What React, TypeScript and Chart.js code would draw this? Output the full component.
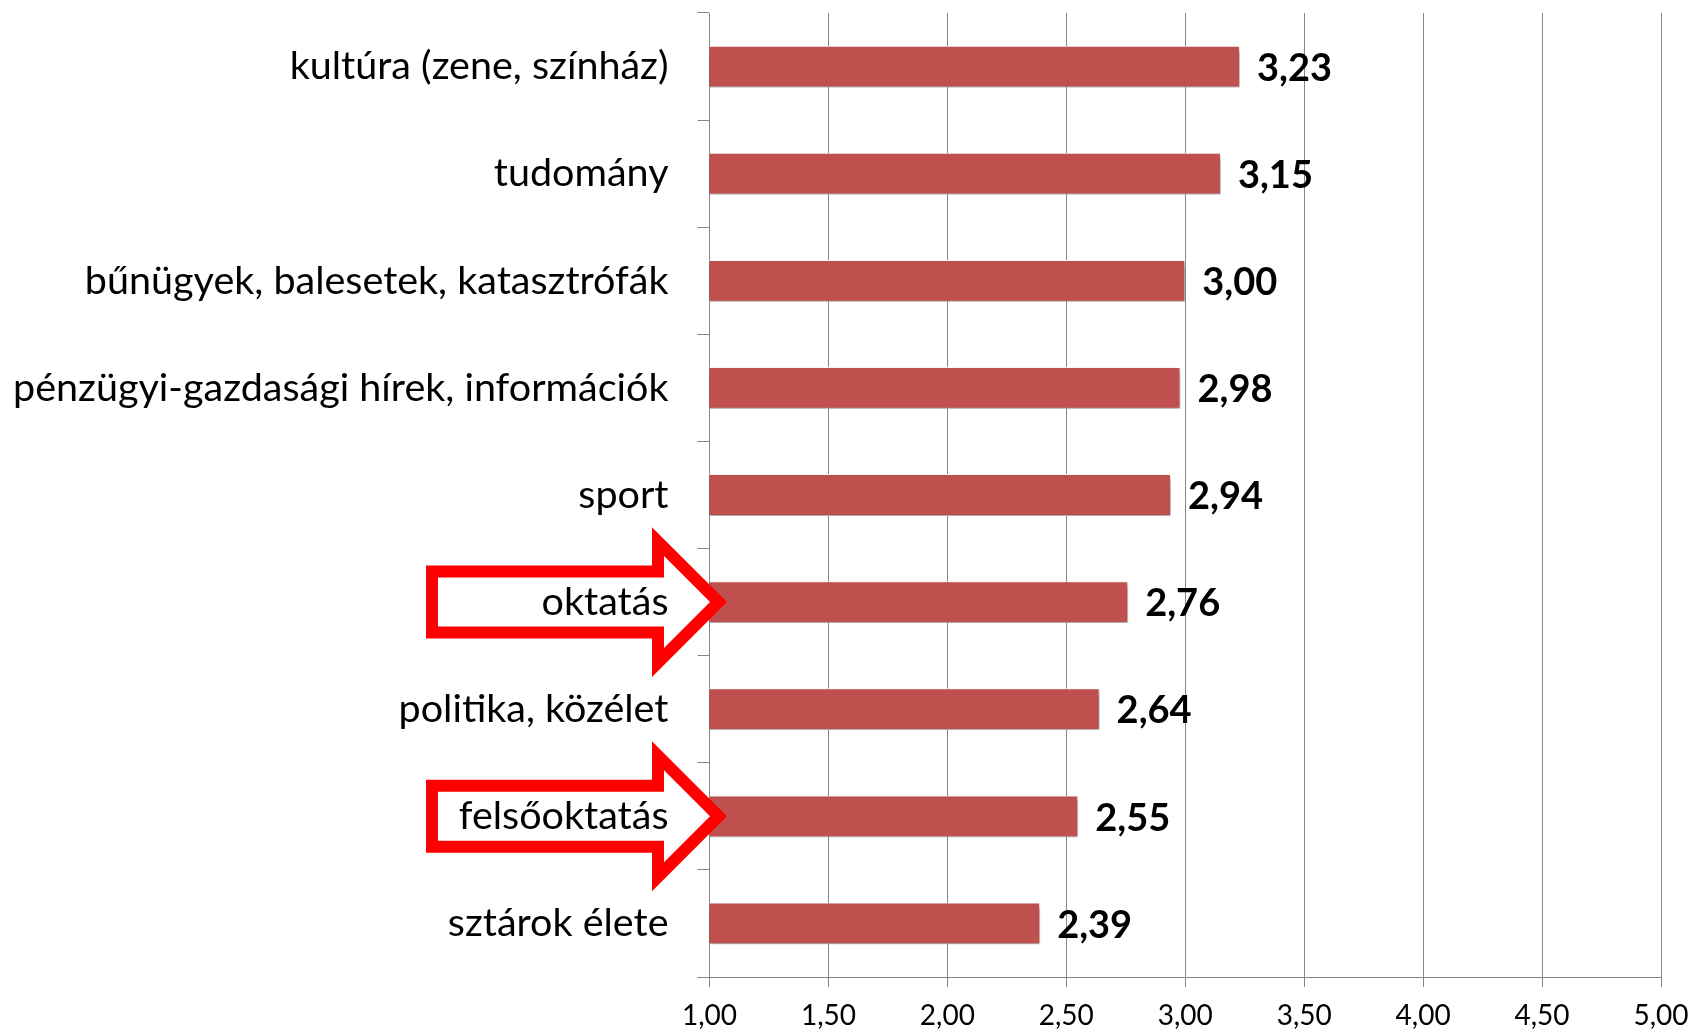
import React, { useEffect, useRef } from "react";
import { Chart, registerables } from "chart.js";

Chart.register(...registerables);

const categories = [
  "kultúra (zene, színház)",
  "tudomány",
  "bűnügyek, balesetek, katasztrófák",
  "pénzügyi-gazdasági hírek, információk",
  "sport",
  "oktatás",
  "politika, közélet",
  "felsőoktatás",
  "sztárok élete",
];
const values = [3.23, 3.15, 3.0, 2.98, 2.94, 2.76, 2.64, 2.55, 2.39];
const highlighted = ["oktatás", "felsőoktatás"];
const xMin = 1;
const xMax = 5;
const xStep = 0.5;

const FONT = "Lato, 'Open Sans', sans-serif";
const LABEL_SIZE = 39.5;
const TICK_SIZE = 28;
const VALUE_SIZE = 38;
const BAR_COLOR = "#C0504D";
const GRID_COLOR = "#868686";
const Y_TICK_LEN = 12;
const Y_TICK_PAD = 29;

const fmt = (v: number) => v.toFixed(2).replace(".", ",");

const decorPlugin = {
  id: "decor",
  beforeDatasetsDraw(chart: any) {
    const ctx = chart.ctx;
    ctx.save();
    ctx.shadowColor = "rgba(0,0,0,0.4)";
    ctx.shadowBlur = 5;
    ctx.shadowOffsetX = 2;
    ctx.shadowOffsetY = 3;
  },
  afterDatasetsDraw(chart: any) {
    const ctx = chart.ctx;
    ctx.restore();
    const meta = chart.getDatasetMeta(0);
    ctx.save();
    ctx.font = `bold ${VALUE_SIZE}px ${FONT}`;
    ctx.fillStyle = "#000";
    ctx.textAlign = "left";
    ctx.textBaseline = "middle";
    meta.data.forEach((bar: any, i: number) => {
      ctx.fillText(fmt(values[i]), bar.x + 17, bar.y + 2);
    });
    ctx.restore();
    const yScale = chart.scales.y;
    const left = chart.chartArea.left;
    highlighted.forEach((name) => {
      const idx = categories.indexOf(name);
      if (idx < 0) return;
      const cy = yScale.getPixelForValue(idx);
      ctx.save();
      ctx.beginPath();
      ctx.moveTo(left - 277.5, cy - 30.5);
      ctx.lineTo(left - 51.5, cy - 30.5);
      ctx.lineTo(left - 51.5, cy - 60.5);
      ctx.lineTo(left + 9, cy);
      ctx.lineTo(left - 51.5, cy + 60.5);
      ctx.lineTo(left - 51.5, cy + 30.5);
      ctx.lineTo(left - 277.5, cy + 30.5);
      ctx.closePath();
      ctx.fillStyle = "#ffffff";
      ctx.fill();
      ctx.lineWidth = 12;
      ctx.lineJoin = "miter";
      ctx.strokeStyle = "#FF0000";
      ctx.stroke();
      ctx.font = `${LABEL_SIZE}px ${FONT}`;
      ctx.fillStyle = "#000";
      ctx.textAlign = "right";
      ctx.textBaseline = "middle";
      ctx.fillText(name, left - Y_TICK_LEN - Y_TICK_PAD, cy);
      ctx.restore();
    });
  },
};

export default function App() {
  const ref = useRef<HTMLCanvasElement | null>(null);
  useEffect(() => {
    if (!ref.current) return;
    const chart = new Chart(ref.current, {
      type: "bar",
      data: {
        labels: categories,
        datasets: [
          {
            data: values,
            backgroundColor: BAR_COLOR,
            borderColor: "#ffffff",
            borderWidth: 1,
            categoryPercentage: 1,
            barPercentage: 0.39,
          },
        ],
      },
      options: {
        indexAxis: "y",
        responsive: false,
        animation: false,
        layout: { padding: { top: 13, right: 35, left: 0, bottom: 0 } },
        plugins: {
          legend: { display: false },
          tooltip: { enabled: false },
        },
        scales: {
          x: {
            type: "linear",
            min: xMin,
            max: xMax,
            afterFit: (s: any) => {
              s.height = 56;
              s.paddingLeft = 0;
              s.paddingRight = 0;
            },
            ticks: {
              stepSize: xStep,
              callback: (v: any) => fmt(Number(v)),
              font: { family: FONT, size: TICK_SIZE },
              color: "#000",
              padding: 12,
              maxRotation: 0,
            },
            grid: {
              color: GRID_COLOR,
              lineWidth: 1,
              tickLength: 10,
              drawOnChartArea: true,
            },
            border: { color: GRID_COLOR, width: 1 },
          },
          y: {
            type: "category",
            afterFit: (s: any) => {
              s.width = 709.5;
              s.paddingTop = 0;
              s.paddingBottom = 0;
            },
            ticks: {
              font: { family: FONT, size: LABEL_SIZE },
              color: "#000",
              padding: Y_TICK_PAD,
            },
            grid: {
              offset: true,
              drawOnChartArea: false,
              drawTicks: true,
              tickLength: Y_TICK_LEN,
              color: GRID_COLOR,
              lineWidth: 1,
            },
            border: { color: GRID_COLOR, width: 1 },
          },
        },
      },
      plugins: [decorPlugin],
    });
    return () => chart.destroy();
  }, []);
  return (
    <div style={{ position: "absolute", left: 0, top: 0, width: 1696, height: 1033, background: "#fff" }}>
      <canvas ref={ref} width={1696} height={1033} style={{ width: 1696, height: 1033 }} />
    </div>
  );
}
